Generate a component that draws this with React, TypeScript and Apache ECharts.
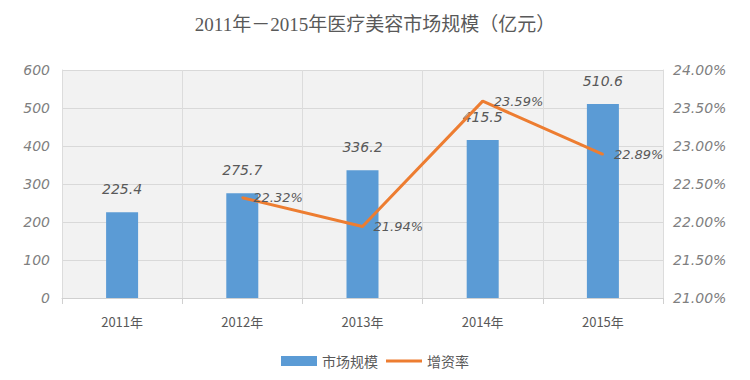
import React, { useEffect, useRef } from "react";
import * as echarts from "echarts";

const title = "2011年－2015年医疗美容市场规模（亿元）";
const categories = ["2011年", "2012年", "2013年", "2014年", "2015年"];
const marketSize = [225.4, 275.7, 336.2, 415.5, 510.6];
const growthRate: (number | null)[] = [null, 22.32, 21.94, 23.59, 22.89];
const seriesNames = ["市场规模", "增资率"];

export default function App() {
  const ref = useRef<HTMLDivElement>(null);
  useEffect(() => {
    if (!ref.current) return;
    const chart = echarts.init(ref.current, null, { renderer: "svg" });
    const labelFont = "DejaVu Sans";
    chart.setOption({
      animation: false,
      backgroundColor: "#ffffff",
      title: {
        text: title,
        left: "center",
        top: 10,
        textStyle: {
          fontFamily: "'Liberation Serif', 'Noto Sans CJK SC', serif",
          fontSize: 19,
          fontWeight: "normal",
          color: "#595959",
        },
      },
      legend: {
        top: 349,
        left: "center",
        itemWidth: 36,
        itemHeight: 10,
        itemGap: 8,
        textStyle: { fontFamily: "'Noto Sans CJK SC'", fontSize: 14, color: "#595959" },
        data: [
          { name: seriesNames[0], icon: "rect" },
          {
            name: seriesNames[1],
            icon: "path://M0,0L0.001,0Z M0,3.6L36,3.6L36,6.4L0,6.4Z M36,10L35.999,10Z",
            itemStyle: { color: "#ed7d31" },
          },
        ],
      },
      grid: {
        left: 62,
        right: 87,
        top: 70,
        bottom: 82,
        show: true,
        backgroundColor: "#f2f2f2",
        borderWidth: 0,
      },
      xAxis: {
        type: "category",
        data: categories,
        axisLine: { show: true, lineStyle: { color: "#d0d0d0" } },
        axisTick: { show: true, length: 6, lineStyle: { color: "#d0d0d0" } },
        splitLine: { show: true, lineStyle: { color: "#dcdcdc" } },
        axisLabel: {
          fontFamily: "'Noto Sans CJK SC'",
          fontSize: 13,
          color: "#595959",
          margin: 17,
        },
      },
      yAxis: [
        {
          type: "value",
          min: 0,
          max: 600,
          interval: 100,
          axisLine: { show: true, lineStyle: { color: "#dcdcdc" } },
          axisTick: { show: false },
          splitLine: { lineStyle: { color: "#d9d9d9" } },
          axisLabel: {
            fontFamily: labelFont,
            fontStyle: "italic",
            fontSize: 14,
            color: "#7f7f7f",
            margin: 12,
          },
        },
        {
          type: "value",
          min: 21,
          max: 24,
          interval: 0.5,
          axisLine: { show: true, lineStyle: { color: "#dcdcdc" } },
          axisTick: { show: false },
          splitLine: { show: false },
          axisLabel: {
            fontFamily: labelFont,
            fontStyle: "italic",
            fontSize: 14,
            color: "#7f7f7f",
            margin: 10,
            formatter: (v: number) => v.toFixed(2) + "%",
          },
        },
      ],
      series: [
        {
          name: seriesNames[0],
          type: "bar",
          data: marketSize,
          barWidth: 32,
          itemStyle: { color: "#5b9bd5" },
          label: {
            show: true,
            position: "top",
            distance: 16,
            fontFamily: labelFont,
            fontStyle: "italic",
            fontSize: 14,
            color: "#595959",
          },
        },
        {
          name: seriesNames[1],
          type: "line",
          yAxisIndex: 1,
          data: growthRate,
          symbol: "circle",
          symbolSize: 2,
          showSymbol: true,
          lineStyle: { color: "#ed7d31", width: 3 },
          itemStyle: { color: "#ed7d31" },
          label: {
            show: true,
            position: "right",
            distance: 10,
            fontFamily: labelFont,
            fontStyle: "italic",
            fontSize: 13,
            color: "#595959",
            formatter: (p: any) =>
              p.value == null ? "" : Number(p.value).toFixed(2) + "%",
          },
        },
      ],
    });
    return () => chart.dispose();
  }, []);
  return (
    <div
      ref={ref}
      style={{ position: "absolute", left: 0, top: 0, width: 750, height: 380 }}
    />
  );
}
